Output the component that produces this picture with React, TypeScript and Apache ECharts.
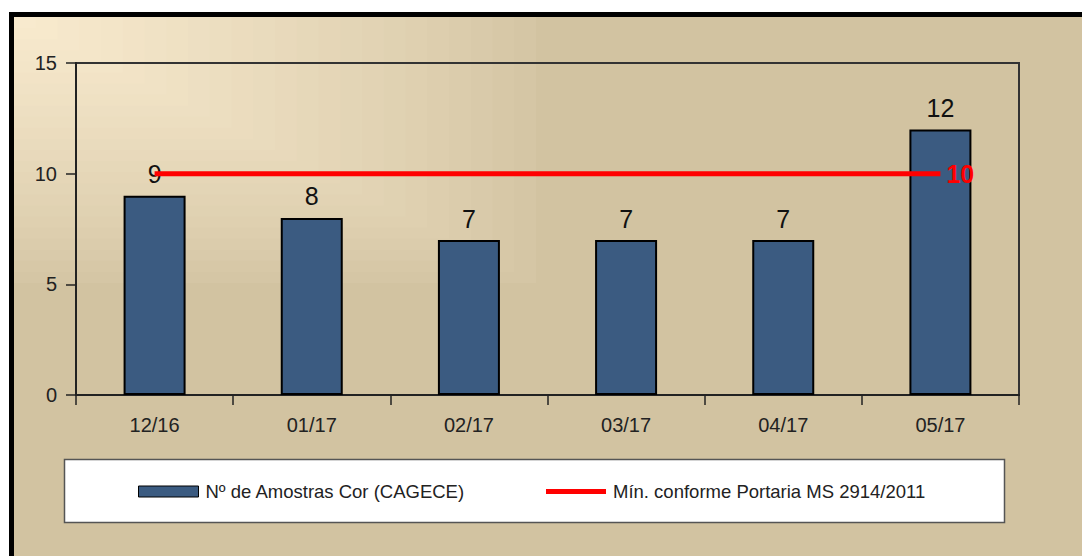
import React, { useEffect, useRef } from "react";
import * as echarts from "echarts";

const categories = ["12/16", "01/17", "02/17", "03/17", "04/17", "05/17"];
const amostras = [9, 8, 7, 7, 7, 12];
const minimo = [10, 10, 10, 10, 10, 10];
const barName = "Nº de Amostras Cor (CAGECE)";
const lineName = "Mín. conforme Portaria MS 2914/2011";
const yTicks = { min: 0, max: 15, interval: 5 };

const FONT = "'Liberation Sans', Arial, sans-serif";

function mix(a: number[], b: number[], t: number) {
  const c = a.map((v, i) => Math.round(v + (b[i] - v) * t));
  return `rgb(${c[0]},${c[1]},${c[2]})`;
}

export default function App() {
  const ref = useRef<HTMLDivElement>(null);
  useEffect(() => {
    if (!ref.current) return;
    const chart = echarts.init(ref.current, null, { renderer: "svg" });

    // rectangular background gradient from the top-left corner (style only)
    const base = [210, 195, 161];
    const light = [248, 234, 206];
    const N = 24;
    const bgRects: any[] = [];
    for (let i = 0; i < N; i++) {
      const f = 1 - i / N;
      bgRects.push({
        type: "rect",
        z: -10 + i * 0.01,
        silent: true,
        shape: { x: 0, y: 0, width: 522 * f, height: 266 * f },
        style: { fill: mix(base, light, Math.pow((i + 1) / N, 0.8)) },
      });
    }

    const lineData = minimo.map((v, i) =>
      i === minimo.length - 1
        ? {
            value: v,
            label: {
              show: true,
              position: "right",
              distance: 6,
              color: "#ff0000",
              fontWeight: "bold",
              fontSize: 25,
              fontFamily: FONT,
              formatter: "{c}",
            },
          }
        : { value: v }
    );

    chart.setOption({
      animation: false,
      backgroundColor: "transparent",
      textStyle: { fontFamily: FONT },
      graphic: [
        ...bgRects,
        {
          type: "rect",
          z: 1,
          silent: true,
          shape: { x: 50.5, y: 442.5, width: 940, height: 63 },
          style: { fill: "#ffffff", stroke: "#555555", lineWidth: 1.5 },
        },
      ],
      grid: {
        left: 62,
        top: 46,
        width: 943,
        height: 332,
        show: true,
        backgroundColor: "transparent",
        borderColor: "#333333",
        borderWidth: 2,
      },
      legend: [
        {
          data: [{ name: barName, icon: "rect" }],
          left: 124,
          top: 465,
          padding: 0,
          itemWidth: 60,
          itemHeight: 11,
          itemGap: 10,
          itemStyle: { borderColor: "#000", borderWidth: 1 },
          textStyle: { fontSize: 18.5, color: "#222", fontFamily: FONT, padding: [0, 0, 0, 2] },
          selectedMode: false,
        },
        {
          data: [{ name: lineName, icon: "path://M0,0H60V5H0Z" }],
          left: 532,
          top: 465,
          padding: 0,
          itemWidth: 60,
          itemHeight: 11,
          itemGap: 10,
          itemStyle: { borderWidth: 0 },
          textStyle: { fontSize: 18.5, color: "#222", fontFamily: FONT, padding: [0, 0, 0, 2] },
          selectedMode: false,
        },
      ],
      xAxis: {
        type: "category",
        data: categories,
        boundaryGap: true,
        axisLine: { show: true, lineStyle: { color: "#222", width: 2 } },
        axisTick: { show: true, length: 10, lineStyle: { color: "#222", width: 1.5 } },
        axisLabel: { fontSize: 20, color: "#222", margin: 20, fontFamily: FONT },
        splitLine: { show: false },
      },
      yAxis: {
        type: "value",
        min: yTicks.min,
        max: yTicks.max,
        interval: yTicks.interval,
        axisLine: { show: true, lineStyle: { color: "#222", width: 2 } },
        axisTick: { show: true, length: 10, lineStyle: { color: "#222", width: 1.5 } },
        axisLabel: { fontSize: 20, color: "#222", margin: 19, fontFamily: FONT },
        splitLine: { show: false },
      },
      series: [
        {
          name: barName,
          type: "bar",
          data: amostras,
          barWidth: 62,
          itemStyle: { color: "#3b5b81", borderColor: "#000", borderWidth: 2 },
          label: {
            show: true,
            position: "top",
            distance: 9,
            fontSize: 25,
            color: "#111",
            fontFamily: FONT,
          },
          z: 2,
        },
        {
          name: lineName,
          type: "line",
          data: lineData,
          symbol: "circle",
          symbolSize: 0,
          showSymbol: true,
          itemStyle: { color: "#ff0000" },
          lineStyle: { color: "#ff0000", width: 5 },
          z: 3,
        },
      ],
    });
    return () => chart.dispose();
  }, []);

  return (
    <div
      style={{
        position: "fixed",
        left: 9,
        top: 12,
        width: 1080,
        height: 550,
        border: "5px solid #000",
        background: "#d2c3a1",
      }}
    >
      <div ref={ref} style={{ width: 1080, height: 550 }} />
    </div>
  );
}
